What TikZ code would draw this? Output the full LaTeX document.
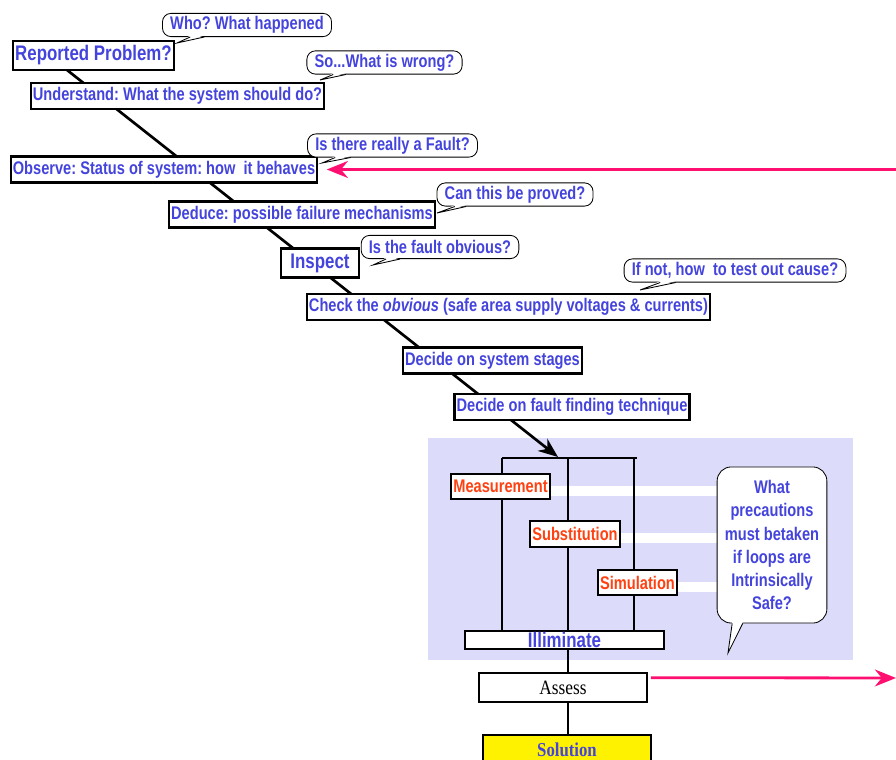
\documentclass[tikz,border=0pt]{standalone}
\usepackage{fontspec}
\newfontfamily\narrowsf[FakeStretch=0.8]{Liberation Sans}
\newfontfamily\narrowrm[FakeStretch=0.85]{Liberation Serif}
\usetikzlibrary{arrows.meta,backgrounds}
\definecolor{askblue}{RGB}{68,68,221}
\definecolor{techred}{RGB}{255,64,16}
\definecolor{hotpink}{RGB}{255,16,112}
\definecolor{panelblue}{RGB}{220,220,250}
\tikzset{
  stepbox/.style={draw, line width=1.5pt, fill=white, text=askblue,
    font=\narrowsf\bfseries\fontsize{13}{15}\selectfont\frenchspacing,
    inner xsep=1.5pt, inner ysep=1pt, minimum height=18.5pt},
  bigstep/.style={stepbox, font=\narrowsf\bfseries\fontsize{15}{17}\selectfont, minimum height=20.6pt},
  techbox/.style={stepbox, text=techred, minimum height=18pt},
  bubble/.style={draw, line width=0.6pt, fill=white, rounded corners=6pt, text=askblue,
    font=\narrowsf\bfseries\fontsize{13}{15}\selectfont\frenchspacing,
    inner xsep=5.5pt, inner ysep=1pt, minimum height=16.5pt},
  pinkarrow/.style={draw=hotpink, line width=2pt, -{Stealth[length=15pt,width=12pt]}},
  thickline/.style={line width=1.9pt},
}
\newcommand\bubbletail[4]{%
  \fill[white] ([xshift=#2,yshift=1pt]#1.south west) -- (#4) -- ([xshift=#3,yshift=1pt]#1.south west) -- cycle;
  \draw[line width=0.6pt] ([xshift=#2]#1.south west) -- (#4) -- ([xshift=#3]#1.south west);}
\begin{document}
\begin{tikzpicture}[x=0.025cm,y=-0.025cm]
\useasboundingbox (0,0) rectangle (896,760);

\node[bigstep] (rep) at (93.5,55.5) {Reported Problem?};
\node[stepbox] (und) at (177.5,96) {Understand: What the system should do?};
\node[stepbox] (obs) at (164,169.5) {Observe: Status of system: how~ it behaves};
\node[stepbox] (ded) at (302,214.5) {Deduce: possible failure mechanisms};
\node[bigstep, minimum width=55pt] (insp) at (320,263) {Inspect};
\node[stepbox] (chk) at (508.5,307) {Check the \textit{obvious} (safe area supply voltages \& currents)};
\node[stepbox] (stg) at (492.5,360.5) {Decide on system stages};
\node[stepbox] (tech) at (572,407) {Decide on fault finding technique};

\node[bubble] (who) at (247,25) {Who? What happened};
\bubbletail{who}{20pt}{30pt}{177,43}
\node[bubble] (wrong) at (384.5,62.5) {So...What is wrong?};
\bubbletail{wrong}{19pt}{28pt}{320,80}
\node[bubble] (fault) at (392.5,145.5) {Is there really a Fault?};
\bubbletail{fault}{20pt}{31pt}{322,163}
\node[bubble] (proved) at (515,194.5) {Can this be proved?};
\bubbletail{proved}{13pt}{21pt}{437,213}
\node[bubble] (obvious) at (440,247) {Is the fault obvious?};
\bubbletail{obvious}{18pt}{28pt}{373,265}
\node[bubble] (cause) at (735,270.5) {If not, how~ to test out cause?};
\bubbletail{cause}{26pt}{37pt}{640,290}

\node[techbox] (meas) at (500.5,486.5) {Measurement};
\node[techbox] (subs) at (575,534) {Substitution};
\node[techbox] (sim) at (637.5,582.5) {Simulation};
\node[stepbox, minimum width=141.5pt, minimum height=12.8pt, text height=11pt, text depth=0pt,
  inner ysep=0.9pt, font=\narrowsf\bfseries\fontsize{15}{17}\selectfont] (ill) at (564.5,640) {Illiminate};
\node[bubble, rounded corners=10pt, minimum width=75pt, minimum height=111pt, align=center,
  font=\narrowsf\bfseries\fontsize{13}{16.4}\selectfont] (ask) at (772,545)
  {What\\precautions\\must betaken\\if loops are\\Intrinsically\\Safe?};
\bubbletail{ask}{11pt}{18.5pt}{728,653}

\node[draw, line width=1.4pt, fill=white, minimum width=119.5pt, minimum height=20.6pt,
  font=\narrowrm\fontsize{14.5}{16}\selectfont] (ass) at (563,687.5) {Assess};
\node[draw, line width=1.4pt, fill=yellow, text=askblue, minimum width=119.5pt, minimum height=22pt,
  font=\narrowrm\bfseries\fontsize{14}{16}\selectfont] (sol) at (567,750) {Solution};

\coordinate (start) at (67,70);
\coordinate (hit) at (558,457);
\coordinate (b1) at (502,458);
\coordinate (b2) at (568,458);
\coordinate (b3) at (634,458);
\coordinate (bend) at (637,458);
\coordinate (pin) at (896,169.5);
\coordinate (pout) at (896,678);

\draw[pinkarrow, shorten >=6pt] (pin) -- (obs.east);
\draw[pinkarrow] ([xshift=2pt,yshift=7pt]ass.east) -- (pout);

\begin{pgfonlayer}{background}
\fill[panelblue] (428,438) rectangle (853,660);
\foreach \t in {meas,subs,sim}
  \draw[white, line width=7pt] ([yshift=-3pt]\t.east) -- ([yshift=-3pt]ask.west |- \t.east);
\draw[thickline, -{Stealth[length=14pt,width=11pt]}] (start) -- (hit);
\draw[thickline] (b1) -- (bend);
\foreach \b in {b1,b2,b3}
  \draw[thickline] (\b) -- (\b |- ill.north);
\draw[thickline] (b2 |- ill.south) -- (b2 |- ass.north);
\draw[thickline] (b2 |- ass.south) -- (b2 |- sol.north);
\end{pgfonlayer}
\end{tikzpicture}
\end{document}
